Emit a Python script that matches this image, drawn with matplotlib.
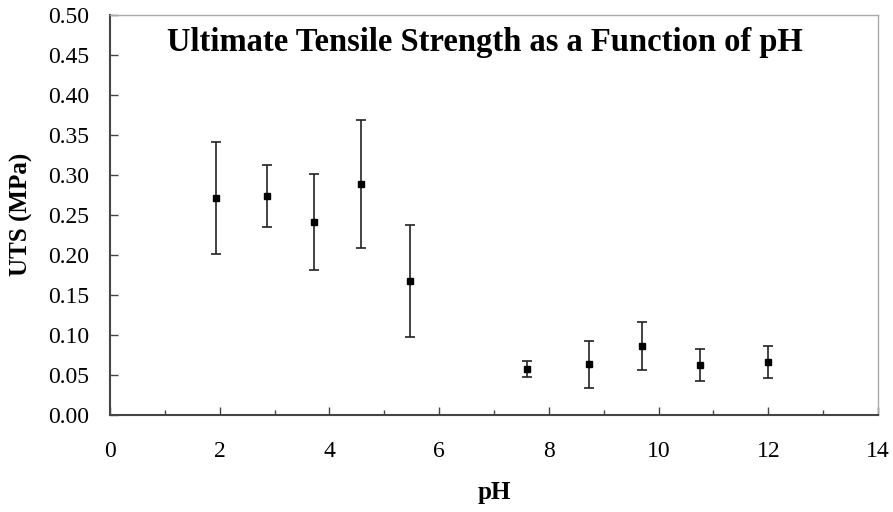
import matplotlib.pyplot as plt
from matplotlib.ticker import MultipleLocator, FormatStrFormatter

# Datos
ph = [1.93, 2.86, 3.72, 4.58, 5.47, 7.60, 8.73, 9.70, 10.75, 11.99]
uts = [0.2715, 0.2736, 0.2414, 0.2886, 0.167, 0.0575, 0.063, 0.0863, 0.0625, 0.0663]
uts_err = [0.070, 0.039, 0.060, 0.080, 0.070, 0.010, 0.029, 0.030, 0.020, 0.020]

plt.rcParams['font.family'] = ['Liberation Serif', 'DejaVu Serif']

fig = plt.figure(figsize=(8.93, 5.12), dpi=100)
ax = fig.add_axes([0.1232, 0.190, 0.86, 0.7807])

ax.errorbar(ph, uts, yerr=uts_err, fmt='s', color='black', ecolor='#222222',
            markersize=5, elinewidth=1.2, capsize=3.6, capthick=1.2)

ax.set_xlim(0, 14)
ax.set_ylim(0, 0.5)
ax.xaxis.set_major_locator(MultipleLocator(2))
ax.xaxis.set_minor_locator(MultipleLocator(1))
ax.yaxis.set_major_locator(MultipleLocator(0.05))
ax.yaxis.set_major_formatter(FormatStrFormatter('%.2f'))

ax.tick_params(which='major', direction='in', length=5.5, width=1, color='#444444',
               labelsize=17)
ax.tick_params(which='minor', direction='in', length=3.8, width=1, color='#444444')
ax.tick_params(axis='x', pad=19)
ax.tick_params(axis='y', pad=15)

for s in ['left', 'bottom']:
    ax.spines[s].set_color('#444444')
    ax.spines[s].set_linewidth(1.5)
for s in ['top', 'right']:
    ax.spines[s].set_color('#aaaaaa')
    ax.spines[s].set_linewidth(1.0)

ax.set_xlabel('pH', fontsize=18, fontweight='bold')
ax.set_ylabel('UTS (MPa)', fontsize=18, fontweight='bold')
ax.xaxis.set_label_coords(0.5, -0.165)
ax.yaxis.set_label_coords(-0.100, 0.5)
ax.text(0.488, 0.932, 'Ultimate Tensile Strength as a Function of pH',
        transform=ax.transAxes, ha='center', va='center',
        fontsize=23.5, fontweight='bold')

fig.savefig('out.png', dpi=100)
